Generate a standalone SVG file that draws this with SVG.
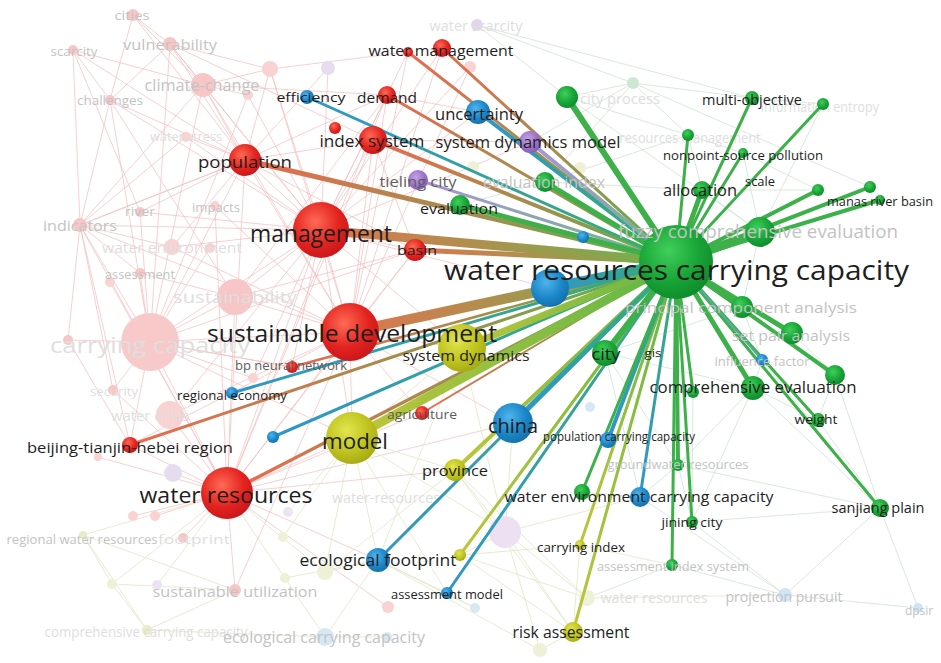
<svg xmlns="http://www.w3.org/2000/svg" width="941" height="663" viewBox="0 0 941 663">
<style>
.t{font-family:"Open Sans","Noto Sans","DejaVu Sans",sans-serif;text-anchor:middle;fill:#1e1e1e}
.f{fill:#c3c3c3}
.ff{fill:#dedede}
.g{fill:#5e5e5e}
.wp{fill:none;stroke:#f3bcbc;stroke-width:1;opacity:.7}
.wg{fill:none;stroke:#cfe3d3;stroke-width:1;opacity:.8}
.wo{fill:none;stroke:#e2e6c4;stroke-width:1;opacity:.8}
.c{stroke-linecap:round;fill:none}
.gr{stroke:#3db04a}
</style>
<defs>
<radialGradient id="nr" cx="0.4" cy="0.35" r="0.7"><stop offset="0" stop-color="#ff6a55"/><stop offset="0.6" stop-color="#e3231f"/><stop offset="1" stop-color="#c8151a"/></radialGradient>
<radialGradient id="ng" cx="0.4" cy="0.35" r="0.7"><stop offset="0" stop-color="#3fcf5a"/><stop offset="0.6" stop-color="#18a336"/><stop offset="1" stop-color="#0d8a2a"/></radialGradient>
<radialGradient id="nb" cx="0.4" cy="0.35" r="0.7"><stop offset="0" stop-color="#4fb4ec"/><stop offset="0.6" stop-color="#1b86c8"/><stop offset="1" stop-color="#136fa8"/></radialGradient>
<radialGradient id="no" cx="0.4" cy="0.35" r="0.7"><stop offset="0" stop-color="#e2e54e"/><stop offset="0.6" stop-color="#c0c31e"/><stop offset="1" stop-color="#a3a812"/></radialGradient>
<radialGradient id="np" cx="0.4" cy="0.35" r="0.7"><stop offset="0" stop-color="#c4a2e6"/><stop offset="0.6" stop-color="#9c72c9"/><stop offset="1" stop-color="#8458b5"/></radialGradient>
<linearGradient id="r1" gradientUnits="userSpaceOnUse" x1="408" y1="52" x2="676" y2="262"><stop offset="0" stop-color="#ea6a4f"/><stop offset="1" stop-color="#5db24c"/></linearGradient>
<linearGradient id="r2" gradientUnits="userSpaceOnUse" x1="442" y1="48" x2="676" y2="262"><stop offset="0" stop-color="#ea6a4f"/><stop offset="1" stop-color="#5db24c"/></linearGradient>
<linearGradient id="r3" gradientUnits="userSpaceOnUse" x1="387" y1="95" x2="676" y2="262"><stop offset="0" stop-color="#ea6a4f"/><stop offset="1" stop-color="#5db24c"/></linearGradient>
<linearGradient id="r4" gradientUnits="userSpaceOnUse" x1="373" y1="140" x2="676" y2="262"><stop offset="0" stop-color="#ea6a4f"/><stop offset="1" stop-color="#5db24c"/></linearGradient>
<linearGradient id="r5" gradientUnits="userSpaceOnUse" x1="245" y1="160" x2="676" y2="262"><stop offset="0" stop-color="#ea6a4f"/><stop offset="1" stop-color="#5db24c"/></linearGradient>
<linearGradient id="r6" gradientUnits="userSpaceOnUse" x1="321" y1="230" x2="676" y2="262"><stop offset="0" stop-color="#e0744f"/><stop offset="1" stop-color="#6db44c"/></linearGradient>
<linearGradient id="r7" gradientUnits="userSpaceOnUse" x1="415" y1="250" x2="676" y2="262"><stop offset="0" stop-color="#e0744f"/><stop offset="1" stop-color="#6db44c"/></linearGradient>
<linearGradient id="r8" gradientUnits="userSpaceOnUse" x1="350" y1="332" x2="676" y2="262"><stop offset="0" stop-color="#e0744f"/><stop offset="1" stop-color="#6db44c"/></linearGradient>
<linearGradient id="r9" gradientUnits="userSpaceOnUse" x1="292" y1="367" x2="676" y2="262"><stop offset="0" stop-color="#ea6a4f"/><stop offset="1" stop-color="#5db24c"/></linearGradient>
<linearGradient id="r10" gradientUnits="userSpaceOnUse" x1="422" y1="413" x2="676" y2="262"><stop offset="0" stop-color="#ea6a4f"/><stop offset="1" stop-color="#5db24c"/></linearGradient>
<linearGradient id="r11" gradientUnits="userSpaceOnUse" x1="130" y1="445" x2="676" y2="262"><stop offset="0" stop-color="#ea6a4f"/><stop offset="1" stop-color="#5db24c"/></linearGradient>
<linearGradient id="r12" gradientUnits="userSpaceOnUse" x1="227" y1="493" x2="676" y2="262"><stop offset="0" stop-color="#ea6a4f"/><stop offset="1" stop-color="#5db24c"/></linearGradient>
<linearGradient id="b1" gradientUnits="userSpaceOnUse" x1="307" y1="97" x2="676" y2="262"><stop offset="0" stop-color="#2e96cc"/><stop offset="1" stop-color="#3aae6a"/></linearGradient>
<linearGradient id="b2" gradientUnits="userSpaceOnUse" x1="478" y1="112" x2="676" y2="262"><stop offset="0" stop-color="#2e96cc"/><stop offset="1" stop-color="#3aae6a"/></linearGradient>
<linearGradient id="b3" gradientUnits="userSpaceOnUse" x1="550" y1="288" x2="676" y2="262"><stop offset="0" stop-color="#2e96cc"/><stop offset="1" stop-color="#3aae6a"/></linearGradient>
<linearGradient id="b4" gradientUnits="userSpaceOnUse" x1="232" y1="393" x2="676" y2="262"><stop offset="0" stop-color="#2e96cc"/><stop offset="1" stop-color="#3aae6a"/></linearGradient>
<linearGradient id="b5" gradientUnits="userSpaceOnUse" x1="273" y1="437" x2="676" y2="262"><stop offset="0" stop-color="#2e96cc"/><stop offset="1" stop-color="#3aae6a"/></linearGradient>
<linearGradient id="b6" gradientUnits="userSpaceOnUse" x1="513" y1="423" x2="676" y2="262"><stop offset="0" stop-color="#2e96cc"/><stop offset="1" stop-color="#3aae6a"/></linearGradient>
<linearGradient id="b7" gradientUnits="userSpaceOnUse" x1="378" y1="560" x2="676" y2="262"><stop offset="0" stop-color="#2e96cc"/><stop offset="1" stop-color="#3aae6a"/></linearGradient>
<linearGradient id="b8" gradientUnits="userSpaceOnUse" x1="447" y1="593" x2="676" y2="262"><stop offset="0" stop-color="#2e96cc"/><stop offset="1" stop-color="#3aae6a"/></linearGradient>
<linearGradient id="b9" gradientUnits="userSpaceOnUse" x1="608" y1="440" x2="676" y2="262"><stop offset="0" stop-color="#2e96cc"/><stop offset="1" stop-color="#3aae6a"/></linearGradient>
<linearGradient id="b10" gradientUnits="userSpaceOnUse" x1="640" y1="497" x2="676" y2="262"><stop offset="0" stop-color="#2e96cc"/><stop offset="1" stop-color="#3aae6a"/></linearGradient>
<linearGradient id="p1" gradientUnits="userSpaceOnUse" x1="530" y1="142" x2="676" y2="262"><stop offset="0" stop-color="#a996d6"/><stop offset="1" stop-color="#6db88a"/></linearGradient>
<linearGradient id="p2" gradientUnits="userSpaceOnUse" x1="418" y1="180" x2="676" y2="262"><stop offset="0" stop-color="#a996d6"/><stop offset="1" stop-color="#6db88a"/></linearGradient>
<linearGradient id="o1" gradientUnits="userSpaceOnUse" x1="352" y1="438" x2="676" y2="262"><stop offset="0" stop-color="#bfc63a"/><stop offset="1" stop-color="#5fb648"/></linearGradient>
<linearGradient id="o2" gradientUnits="userSpaceOnUse" x1="462" y1="348" x2="676" y2="262"><stop offset="0" stop-color="#bfc63a"/><stop offset="1" stop-color="#5fb648"/></linearGradient>
<linearGradient id="o3" gradientUnits="userSpaceOnUse" x1="455" y1="470" x2="676" y2="262"><stop offset="0" stop-color="#bfc63a"/><stop offset="1" stop-color="#5fb648"/></linearGradient>
<linearGradient id="o4" gradientUnits="userSpaceOnUse" x1="460" y1="555" x2="676" y2="262"><stop offset="0" stop-color="#bfc63a"/><stop offset="1" stop-color="#5fb648"/></linearGradient>
<linearGradient id="o5" gradientUnits="userSpaceOnUse" x1="580" y1="545" x2="676" y2="262"><stop offset="0" stop-color="#bfc63a"/><stop offset="1" stop-color="#5fb648"/></linearGradient>
<linearGradient id="o6" gradientUnits="userSpaceOnUse" x1="573" y1="632" x2="676" y2="262"><stop offset="0" stop-color="#bfc63a"/><stop offset="1" stop-color="#5fb648"/></linearGradient>
</defs>
<rect width="941" height="663" fill="#ffffff"/>

<g id="background-links">
<path class="wp" d="M133,15L170,44M133,15L203,85M133,15L110,100M133,15L245,160M73,50L110,100M73,50L203,85M73,50L140,212M73,50L245,160M73,50L80,225M170,44L245,160M170,44L270,69M170,44L110,100M170,44L321,230M170,44L203,85M170,44L150,342M203,85L245,160M203,85L321,230M203,85L80,225M203,85L150,342M203,85L270,69M203,85L248,95M203,85L350,332M110,100L150,342M110,100L80,225M110,100L245,160M110,100L235,297M110,100L321,230M186,137L321,230M186,137L80,225M186,137L245,160M245,160L80,225M245,160L150,342M245,160L140,212M245,160L172,247M245,160L350,332M245,160L321,230M245,160L373,140M245,160L387,95M245,160L227,493M270,69L245,160M270,69L408,52M270,69L350,332M270,69L321,230M248,95L321,230M248,95L150,342M328,68L321,230M328,68L245,160M80,225L150,342M80,225L172,247M80,225L113,390M80,225L140,273M80,225L321,230M80,225L350,332M80,225L227,493M80,225L130,445M140,212L321,230M140,212L150,342M215,206L350,332M215,206L227,493M172,247L350,332M172,247L321,230M210,248L150,342M140,273L235,297M140,273L150,342M110,282L227,493M235,297L321,230M235,297L350,332M235,297L150,342M235,297L227,493M150,342L350,332M150,342L321,230M150,342L227,493M150,342L130,445M150,342L113,390M150,342L68,340M150,342L352,438M150,342L415,250M68,340L80,225M68,340L130,445M113,390L227,493M170,415L350,332M170,415L227,493M170,415L321,230M130,445L227,493M130,445L350,332M321,230L350,332M321,230L227,493M350,332L227,493M350,332L352,438M321,230L530,142M321,230L478,112M350,332L513,423M350,332L462,348M321,230L415,250M321,230L387,95M321,230L373,140M321,230L352,438M321,230L550,288M350,332L550,288M350,332L415,250M227,493L352,438M227,493L455,470M227,493L378,560M227,493L513,423M227,493L133,516M227,493L155,516M227,493L183,538M227,493L235,590M227,493L173,473M227,493L388,607M227,493L98,457M235,590L350,332M373,140L530,142M373,140L350,332M387,95L350,332M408,52L321,230M442,48L350,332M470,67L321,230M292,367L150,342M253,378L150,342M422,413L227,493M422,413L350,332M373,140L415,250M387,95L478,112M245,160L415,250M321,230L462,348M150,342L292,367M235,297L415,250M80,225L245,160M170,44L373,140M203,85L387,95M442,48L321,230M408,52L350,332M470,67L350,332M373,140L227,493M387,95L227,493M415,250L227,493M292,367L321,230M253,378L321,230M235,297L387,95"/>
<path class="wg" d="M567,97L633,83M633,83L752,98M633,83L688,135M567,97L688,135M688,135L743,153M743,153L760,232M752,98L823,104M823,104L760,232M760,232L870,187M760,232L742,307M742,307L792,333M792,333L835,375M835,375L818,420M818,420L880,508M880,508L785,595M880,508L918,608M785,595L918,608M785,595L672,565M785,595L692,522M692,522L678,465M678,465L640,497M640,497L582,492M753,388L762,360M762,360L742,307M880,508L753,388M880,508L678,465M692,522L753,388M605,353L742,307M605,353L753,388M545,182L633,83M460,205L545,182M702,190L760,232M702,190L688,135M880,508L835,375M785,595L640,497M672,565L587,598M880,508L692,522M818,420L753,388M702,190L818,190M743,153L818,190M633,83L870,187M567,97L477,25M477,25L633,83M567,97L760,232M545,182L702,190M605,353L678,465M605,353L640,497M742,307L835,375M753,388L678,465M693,392L692,522M762,360L880,508M530,142L633,83M545,182L688,135M477,25L752,98"/>
<path class="wo" d="M352,438L378,560M352,438L455,470M352,438L325,572M325,572L378,560M378,560L325,637M378,560L447,593M325,637L387,637M447,593L475,608M455,470L505,532M505,532L573,632M573,632L580,545M460,555L573,632M505,532L460,555M505,532L640,497M112,584L235,590M83,535L235,590M147,630L235,590M147,630L83,535M147,630L325,637M83,535L227,493M112,584L227,493M352,438L505,532M455,470L573,632M462,348L505,532M513,423L378,560M462,348L378,560M352,438L447,593M587,598L505,532M587,598L460,555M540,650L573,632M540,650L505,532M283,537L352,438M285,578L378,560M288,512L352,438M157,585L227,493M325,572L227,493M378,560L540,650M455,470L587,598M513,423L505,532M378,560L475,608M325,637L227,493M455,470L325,572M580,545L672,565M785,595L587,598M580,545L460,555M462,348L352,438M513,423L455,470M147,630L112,584M83,535L112,584"/>
</g>

<g id="faded-nodes">
<g id="n-cities"><circle cx="133" cy="15" r="6" fill="#f7c6c6"/><text class="t f" x="132" y="20" font-size="13" textLength="35" lengthAdjust="spacingAndGlyphs">cities</text></g>
<g id="n-scarcity"><circle cx="73" cy="50" r="5" fill="#f7c6c6"/><text class="t f" x="74" y="56" font-size="12" textLength="47" lengthAdjust="spacingAndGlyphs">scarcity</text></g>
<g id="n-vulnerability"><circle cx="170" cy="44" r="7" fill="#f7c6c6"/><text class="t f" x="170" y="50" font-size="15" textLength="94" lengthAdjust="spacingAndGlyphs">vulnerability</text></g>
<g id="n-x1"><circle cx="270" cy="69" r="8" fill="#f9d2d2"/><circle cx="248" cy="95" r="5" fill="#f9d2d2"/><circle cx="328" cy="68" r="7" fill="#e6dcf0"/><circle cx="470" cy="67" r="6" fill="#f9d2d2"/></g>
<g id="n-climate"><circle cx="203" cy="85" r="12" fill="#f7c6c6"/><text class="t f" x="202" y="91" font-size="16" textLength="115" lengthAdjust="spacingAndGlyphs">climate-change</text></g>
<g id="n-challenges"><circle cx="110" cy="100" r="5" fill="#f7c6c6"/><text class="t f" x="110" y="105" font-size="13" textLength="66" lengthAdjust="spacingAndGlyphs">challenges</text></g>
<g id="n-waterstress"><circle cx="186" cy="137" r="5" fill="#f9d2d2"/><text class="t ff" x="186" y="141" font-size="13" textLength="72" lengthAdjust="spacingAndGlyphs">water stress</text></g>
<g id="n-river"><circle cx="140" cy="212" r="5" fill="#f7c6c6"/><text class="t f" x="140" y="216" font-size="13" textLength="30" lengthAdjust="spacingAndGlyphs">river</text></g>
<g id="n-impacts"><circle cx="215" cy="206" r="5" fill="#f9d2d2"/><text class="t f" x="216" y="212" font-size="13" textLength="48" lengthAdjust="spacingAndGlyphs">impacts</text></g>
<g id="n-indicators"><circle cx="80" cy="225" r="7" fill="#f7c6c6"/><text class="t f" x="80" y="231" font-size="14" textLength="74" lengthAdjust="spacingAndGlyphs">indicators</text></g>
<g id="n-waterenv"><circle cx="172" cy="247" r="8" fill="#f9d2d2"/><circle cx="210" cy="248" r="5" fill="#f9d2d2"/><text class="t ff" x="172" y="253" font-size="14" textLength="140" lengthAdjust="spacingAndGlyphs">water environment</text></g>
<g id="n-assessment"><circle cx="140" cy="273" r="5" fill="#f7c6c6"/><circle cx="110" cy="282" r="5" fill="#f9d2d2"/><text class="t f" x="140" y="279" font-size="12" textLength="70" lengthAdjust="spacingAndGlyphs">assessment</text></g>
<g id="n-sustainability"><circle cx="235" cy="297" r="18" fill="#f7c6c6"/><text class="t ff" x="235" y="303" font-size="17" textLength="124" lengthAdjust="spacingAndGlyphs">sustainability</text></g>
<g id="n-carrying"><circle cx="150" cy="342" r="29" fill="#f8c9c9"/><circle cx="68" cy="340" r="5" fill="#f7c6c6"/><text class="t ff" x="150" y="353" font-size="22" textLength="200" lengthAdjust="spacingAndGlyphs">carrying capacity</text></g>
<g id="n-security"><circle cx="113" cy="390" r="5" fill="#f7c6c6"/><text class="t ff" x="114" y="396" font-size="12" textLength="48" lengthAdjust="spacingAndGlyphs">security</text></g>
<g id="n-crisis"><circle cx="170" cy="415" r="14" fill="#f9d2d2"/><circle cx="253" cy="378" r="5" fill="#f9d2d2"/><text class="t ff" x="150" y="421" font-size="14" textLength="78" lengthAdjust="spacingAndGlyphs">water crisis</text></g>
<g id="n-x2"><circle cx="173" cy="473" r="9" fill="#e6dcf0"/><circle cx="133" cy="516" r="5" fill="#f9d2d2"/><circle cx="155" cy="516" r="5" fill="#f9d2d2"/><circle cx="98" cy="457" r="4" fill="#f9d2d2"/><circle cx="283" cy="537" r="5" fill="#eef0d8"/><circle cx="285" cy="578" r="5" fill="#eef0d8"/><circle cx="288" cy="512" r="5" fill="#ece4f4"/><circle cx="157" cy="585" r="5" fill="#ece4f4"/><circle cx="112" cy="584" r="5" fill="#eef0d8"/></g>
<g id="n-regionalwater"><circle cx="83" cy="535" r="4" fill="#e8ecc8"/><text class="t f" x="82" y="544" font-size="13" textLength="151" lengthAdjust="spacingAndGlyphs">regional water resources</text></g>
<g id="n-waterfootprint"><circle cx="183" cy="538" r="5" fill="#f7c6c6"/><text class="t ff" x="194" y="544" font-size="13" textLength="72" lengthAdjust="spacingAndGlyphs">footprint</text></g>
<g id="n-sustutil"><circle cx="235" cy="590" r="6" fill="#f7c6c6"/><text class="t f" x="235" y="597" font-size="15" textLength="165" lengthAdjust="spacingAndGlyphs">sustainable utilization</text></g>
<g id="n-compcarrying"><circle cx="147" cy="630" r="5" fill="#e8ecc8"/><text class="t ff" x="146" y="637" font-size="14" textLength="203" lengthAdjust="spacingAndGlyphs">comprehensive carrying capacity</text></g>
<g id="n-ecocarrying"><circle cx="325" cy="637" r="9" fill="#d6e8f4"/><circle cx="387" cy="637" r="5" fill="#d6e8f4"/><text class="t f" x="324" y="643" font-size="16" textLength="202" lengthAdjust="spacingAndGlyphs">ecological carrying capacity</text></g>
<g id="n-wres2"><circle cx="325" cy="572" r="8" fill="#eef0d8"/><text class="t ff" x="386" y="503" font-size="14" textLength="108" lengthAdjust="spacingAndGlyphs">water-resources</text></g>
<g id="n-x3"><circle cx="505" cy="532" r="16" fill="#ece0f2"/><circle cx="388" cy="607" r="6" fill="#f9d2d2"/><circle cx="475" cy="608" r="5" fill="#d6e8f4"/><circle cx="540" cy="650" r="7" fill="#eef0d8"/><circle cx="590" cy="407" r="5" fill="#d6e8f4"/><circle cx="473" cy="167" r="6" fill="#f0f0d8"/><circle cx="580" cy="168" r="6" fill="#f0f0d8"/></g>
<g id="n-wres3"><circle cx="587" cy="598" r="8" fill="#eef0d8"/><text class="t ff" x="654" y="603" font-size="14" textLength="107" lengthAdjust="spacingAndGlyphs">water resources</text></g>
<g id="n-projection"><circle cx="785" cy="595" r="7" fill="#cfe4f4"/><text class="t f" x="784" y="602" font-size="15" textLength="117" lengthAdjust="spacingAndGlyphs">projection pursuit</text></g>
<g id="n-dpsir"><circle cx="918" cy="608" r="5" fill="#cfe4f4"/><text class="t f" x="919" y="615" font-size="13" textLength="28" lengthAdjust="spacingAndGlyphs">dpsir</text></g>
<g id="n-scarcitywater"><circle cx="477" cy="25" r="6" fill="#e2d6ee"/><text class="t ff" x="476" y="31" font-size="14" textLength="93" lengthAdjust="spacingAndGlyphs">water scarcity</text></g>
<g id="n-cityprocess"><circle cx="633" cy="83" r="6" fill="#cde8d2"/><text class="t ff" x="620" y="104" font-size="14" textLength="80" lengthAdjust="spacingAndGlyphs">city process</text></g>
<g id="n-resmgmt"><text class="t ff" x="690" y="143" font-size="14" textLength="141" lengthAdjust="spacingAndGlyphs">resources management</text></g>
<g id="n-entropy"><text class="t ff" x="820" y="112" font-size="14" textLength="118" lengthAdjust="spacingAndGlyphs">information entropy</text></g>
</g>

<g id="connectors">
<line class="c" x1="408" y1="52" x2="676" y2="262" stroke="url(#r1)" stroke-width="3"/>
<line class="c" x1="442" y1="48" x2="676" y2="262" stroke="url(#r2)" stroke-width="3"/>
<line class="c" x1="387" y1="95" x2="676" y2="262" stroke="url(#r3)" stroke-width="3"/>
<line class="c" x1="373" y1="140" x2="676" y2="262" stroke="url(#r4)" stroke-width="4"/>
<line class="c" x1="245" y1="160" x2="676" y2="262" stroke="url(#r5)" stroke-width="5"/>
<line class="c" x1="307" y1="97" x2="676" y2="262" stroke="url(#b1)" stroke-width="3"/>
<line class="c" x1="478" y1="112" x2="676" y2="262" stroke="url(#b2)" stroke-width="4"/>
<line class="c" x1="530" y1="142" x2="676" y2="262" stroke="url(#p1)" stroke-width="4"/>
<line class="c" x1="418" y1="180" x2="676" y2="262" stroke="url(#p2)" stroke-width="3"/>
<line class="c" x1="321" y1="230" x2="676" y2="262" stroke="url(#r6)" stroke-width="9"/>
<line class="c" x1="415" y1="250" x2="676" y2="262" stroke="url(#r7)" stroke-width="5"/>
<line class="c" x1="350" y1="332" x2="676" y2="262" stroke="url(#r8)" stroke-width="10"/>
<line class="c" x1="292" y1="367" x2="676" y2="262" stroke="url(#r9)" stroke-width="2.5"/>
<line class="c" x1="232" y1="393" x2="676" y2="262" stroke="url(#b4)" stroke-width="3"/>
<line class="c" x1="130" y1="445" x2="676" y2="262" stroke="url(#r11)" stroke-width="3"/>
<line class="c" x1="273" y1="437" x2="676" y2="262" stroke="url(#b5)" stroke-width="3"/>
<line class="c" x1="227" y1="493" x2="676" y2="262" stroke="url(#r12)" stroke-width="3.5"/>
<line class="c" x1="422" y1="413" x2="676" y2="262" stroke="url(#r10)" stroke-width="2"/>
<line class="c" x1="352" y1="438" x2="676" y2="262" stroke="url(#o1)" stroke-width="9"/>
<line class="c" x1="462" y1="348" x2="676" y2="262" stroke="url(#o2)" stroke-width="7"/>
<line class="c" x1="455" y1="470" x2="676" y2="262" stroke="url(#o3)" stroke-width="4"/>
<line class="c" x1="378" y1="560" x2="676" y2="262" stroke="url(#b7)" stroke-width="3"/>
<line class="c" x1="460" y1="555" x2="676" y2="262" stroke="url(#o4)" stroke-width="3"/>
<line class="c" x1="447" y1="593" x2="676" y2="262" stroke="url(#b8)" stroke-width="3"/>
<line class="c" x1="580" y1="545" x2="676" y2="262" stroke="url(#o5)" stroke-width="3"/>
<line class="c" x1="573" y1="632" x2="676" y2="262" stroke="url(#o6)" stroke-width="3"/>
<line class="c" x1="513" y1="423" x2="676" y2="262" stroke="url(#b6)" stroke-width="5"/>
<line class="c" x1="608" y1="440" x2="676" y2="262" stroke="url(#b9)" stroke-width="4"/>
<line class="c" x1="640" y1="497" x2="676" y2="262" stroke="url(#b10)" stroke-width="3"/>
<line class="c" x1="550" y1="288" x2="676" y2="262" stroke="url(#b3)" stroke-width="10"/>
<line class="c" x1="583" y1="237" x2="676" y2="262" stroke="#3aa6a0" stroke-width="3"/>
<g class="c gr">
<line x1="567" y1="97" x2="676" y2="262" stroke-width="6"/>
<line x1="460" y1="205" x2="676" y2="262" stroke-width="5"/>
<line x1="545" y1="182" x2="676" y2="262" stroke-width="5"/>
<line x1="688" y1="135" x2="676" y2="262" stroke-width="3"/>
<line x1="752" y1="98" x2="676" y2="262" stroke-width="3"/>
<line x1="743" y1="153" x2="676" y2="262" stroke-width="3"/>
<line x1="823" y1="104" x2="676" y2="262" stroke-width="3"/>
<line x1="702" y1="190" x2="676" y2="262" stroke-width="5"/>
<line x1="818" y1="190" x2="676" y2="262" stroke-width="4"/>
<line x1="870" y1="187" x2="676" y2="262" stroke-width="4"/>
<line x1="880" y1="200" x2="676" y2="262" stroke-width="4"/>
<line x1="760" y1="232" x2="676" y2="262" stroke-width="9"/>
<line x1="742" y1="307" x2="676" y2="262" stroke-width="6"/>
<line x1="792" y1="333" x2="676" y2="262" stroke-width="5"/>
<line x1="835" y1="375" x2="676" y2="262" stroke-width="4"/>
<line x1="753" y1="388" x2="676" y2="262" stroke-width="5"/>
<line x1="693" y1="392" x2="676" y2="262" stroke-width="3"/>
<line x1="818" y1="420" x2="676" y2="262" stroke-width="3"/>
<line x1="880" y1="508" x2="676" y2="262" stroke-width="3"/>
<line x1="692" y1="522" x2="676" y2="262" stroke-width="3"/>
<line x1="678" y1="465" x2="676" y2="262" stroke-width="4"/>
<line x1="672" y1="565" x2="676" y2="262" stroke-width="3"/>
<line x1="582" y1="492" x2="676" y2="262" stroke-width="3"/>
<line x1="605" y1="353" x2="676" y2="262" stroke-width="6"/>
<line x1="762" y1="360" x2="676" y2="262" stroke-width="2" stroke="#5aa8a8"/>
</g>
</g>

<g id="nodes">
<g id="n-hub"><circle cx="676" cy="262" r="37" fill="url(#ng)"/></g>
<g id="n-sysdyn"><circle cx="462" cy="348" r="24" fill="url(#no)"/><text class="t" x="466" y="361" font-size="15" textLength="127" lengthAdjust="spacingAndGlyphs">system dynamics</text></g>
<g id="n-blue1"><circle cx="583" cy="237" r="6" fill="url(#nb)"/><circle cx="550" cy="288" r="19" fill="url(#nb)"/></g>
<g id="n-management"><circle cx="321" cy="230" r="28" fill="url(#nr)"/><text class="t" x="321" y="242" font-size="23" textLength="142" lengthAdjust="spacingAndGlyphs">management</text></g>
<g id="n-sustdev"><circle cx="350" cy="332" r="29" fill="url(#nr)"/><text class="t" x="352" y="342" font-size="23" textLength="290" lengthAdjust="spacingAndGlyphs">sustainable development</text></g>
<g id="n-waterres"><circle cx="227" cy="493" r="26" fill="url(#nr)"/><text class="t" x="226" y="503" font-size="22" textLength="173" lengthAdjust="spacingAndGlyphs">water resources</text></g>
<g id="n-model"><circle cx="352" cy="438" r="26" fill="url(#no)"/><text class="t" x="355" y="449" font-size="22" textLength="66" lengthAdjust="spacingAndGlyphs">model</text></g>
<g id="n-population"><circle cx="245" cy="160" r="16" fill="url(#nr)"/><text class="t" x="245" y="168" font-size="17" textLength="94" lengthAdjust="spacingAndGlyphs">population</text></g>
<g id="n-indexsystem"><circle cx="335" cy="128" r="6" fill="url(#nr)"/><circle cx="373" cy="140" r="14" fill="url(#nr)"/><text class="t" x="372" y="147" font-size="17" textLength="105" lengthAdjust="spacingAndGlyphs">index system</text></g>
<g id="n-demand"><circle cx="387" cy="95" r="9" fill="url(#nr)"/><text class="t" x="387" y="103" font-size="15" textLength="60" lengthAdjust="spacingAndGlyphs">demand</text></g>
<g id="n-watermgmt"><circle cx="408" cy="52" r="5" fill="url(#nr)"/><circle cx="442" cy="48" r="9" fill="url(#nr)"/><text class="t" x="441" y="56" font-size="15" textLength="145" lengthAdjust="spacingAndGlyphs">water management</text></g>
<g id="n-efficiency"><circle cx="307" cy="97" r="7" fill="url(#nb)"/><text class="t" x="311" y="102" font-size="13" textLength="69" lengthAdjust="spacingAndGlyphs">efficiency</text></g>
<g id="n-uncertainty"><circle cx="478" cy="112" r="12" fill="url(#nb)"/><text class="t" x="479" y="120" font-size="16" textLength="88" lengthAdjust="spacingAndGlyphs">uncertainty</text></g>
<g id="n-sdm"><circle cx="530" cy="142" r="11" fill="url(#np)"/><text class="t" x="528" y="148" font-size="17" textLength="185" lengthAdjust="spacingAndGlyphs">system dynamics model</text></g>
<g id="n-tieling"><circle cx="418" cy="180" r="10" fill="url(#np)"/><text class="t g" x="418" y="187" font-size="15" textLength="77" lengthAdjust="spacingAndGlyphs">tieling city</text></g>
<g id="n-evalindex"><circle cx="545" cy="182" r="10" fill="url(#ng)"/><text class="t f" x="544" y="188" font-size="16" textLength="122" lengthAdjust="spacingAndGlyphs">evaluation index</text></g>
<g id="n-evaluation"><circle cx="460" cy="205" r="10" fill="url(#ng)"/><text class="t" x="459" y="214" font-size="15" textLength="78" lengthAdjust="spacingAndGlyphs">evaluation</text></g>
<g id="n-green-top"><circle cx="567" cy="97" r="11" fill="url(#ng)"/></g>
<g id="n-basin"><circle cx="415" cy="250" r="11" fill="url(#nr)"/><text class="t" x="417" y="255" font-size="13" textLength="40" lengthAdjust="spacingAndGlyphs">basin</text></g>
<g id="n-city"><circle cx="605" cy="353" r="13" fill="url(#ng)"/><text class="t" x="606" y="360" font-size="16" textLength="29" lengthAdjust="spacingAndGlyphs">city</text></g>
<g id="n-gis"><text class="t" x="653" y="357" font-size="11" textLength="17" lengthAdjust="spacingAndGlyphs">gis</text></g>
<g id="n-bp"><circle cx="292" cy="367" r="6" fill="url(#nr)"/><text class="t g" x="291" y="370" font-size="13" textLength="112" lengthAdjust="spacingAndGlyphs">bp neural network</text></g>
<g id="n-regecon"><circle cx="232" cy="393" r="6" fill="url(#nb)"/><text class="t" x="232" y="400" font-size="13" textLength="110" lengthAdjust="spacingAndGlyphs">regional economy</text></g>
<g id="n-agri"><circle cx="422" cy="413" r="7" fill="url(#nr)"/><text class="t g" x="422" y="419" font-size="13" textLength="70" lengthAdjust="spacingAndGlyphs">agriculture</text></g>
<g id="n-beijing"><circle cx="130" cy="445" r="8" fill="url(#nr)"/><text class="t" x="130" y="453" font-size="15" textLength="206" lengthAdjust="spacingAndGlyphs">beijing-tianjin-hebei region</text></g>
<g id="n-blue2"><circle cx="273" cy="437" r="6" fill="url(#nb)"/></g>
<g id="n-china"><circle cx="513" cy="423" r="20" fill="url(#nb)"/><text class="t" x="513" y="433" font-size="20" textLength="50" lengthAdjust="spacingAndGlyphs">china</text></g>
<g id="n-popcc"><circle cx="608" cy="440" r="8" fill="url(#nb)"/><text class="t" x="619" y="441" font-size="13" textLength="152" lengthAdjust="spacingAndGlyphs">population carrying capacity</text></g>
<g id="n-province"><circle cx="455" cy="470" r="11" fill="url(#no)"/><text class="t" x="455" y="476" font-size="15" textLength="66" lengthAdjust="spacingAndGlyphs">province</text></g>
<g id="n-groundwater"><circle cx="678" cy="465" r="6" fill="url(#ng)"/><text class="t f" x="678" y="469" font-size="13" textLength="141" lengthAdjust="spacingAndGlyphs">groundwater resources</text></g>
<g id="n-wecc"><circle cx="582" cy="492" r="8" fill="url(#ng)"/><circle cx="640" cy="497" r="10" fill="url(#nb)"/><text class="t" x="639" y="502" font-size="15" textLength="269" lengthAdjust="spacingAndGlyphs">water environment carrying capacity</text></g>
<g id="n-jining"><circle cx="692" cy="522" r="6" fill="url(#ng)"/><text class="t" x="692" y="527" font-size="13" textLength="61" lengthAdjust="spacingAndGlyphs">jining city</text></g>
<g id="n-sanjiang"><circle cx="880" cy="508" r="9" fill="url(#ng)"/><text class="t" x="878" y="513" font-size="15" textLength="93" lengthAdjust="spacingAndGlyphs">sanjiang plain</text></g>
<g id="n-carryindex"><circle cx="580" cy="545" r="5" fill="url(#no)"/><text class="t" x="581" y="552" font-size="12" textLength="88" lengthAdjust="spacingAndGlyphs">carrying index</text></g>
<g id="n-assessidx"><circle cx="672" cy="565" r="6" fill="url(#ng)"/><text class="t f" x="673" y="571" font-size="13" textLength="152" lengthAdjust="spacingAndGlyphs">assessment index system</text></g>
<g id="n-ecofoot"><circle cx="378" cy="560" r="12" fill="url(#nb)"/><circle cx="460" cy="555" r="6" fill="url(#no)"/><text class="t" x="378" y="566" font-size="16" textLength="157" lengthAdjust="spacingAndGlyphs">ecological footprint</text></g>
<g id="n-assessmodel"><circle cx="447" cy="593" r="6" fill="url(#nb)"/><text class="t" x="447" y="599" font-size="12" textLength="112" lengthAdjust="spacingAndGlyphs">assessment model</text></g>
<g id="n-risk"><circle cx="573" cy="632" r="10" fill="url(#no)"/><text class="t" x="571" y="638" font-size="16" textLength="117" lengthAdjust="spacingAndGlyphs">risk assessment</text></g>
<g id="n-multi"><circle cx="752" cy="98" r="7" fill="url(#ng)"/><text class="t" x="752" y="105" font-size="14" textLength="100" lengthAdjust="spacingAndGlyphs">multi-objective</text></g>
<g id="n-entropynode"><circle cx="823" cy="104" r="6" fill="url(#ng)"/></g>
<g id="n-resmgmtnode"><circle cx="688" cy="135" r="6" fill="url(#ng)"/></g>
<g id="n-nonpoint"><circle cx="743" cy="153" r="5" fill="url(#ng)"/><text class="t" x="743" y="160" font-size="13" textLength="160" lengthAdjust="spacingAndGlyphs">nonpoint-source pollution</text></g>
<g id="n-allocation"><circle cx="702" cy="190" r="9" fill="url(#ng)"/><text class="t" x="700" y="196" font-size="16" textLength="74" lengthAdjust="spacingAndGlyphs">allocation</text></g>
<g id="n-scale"><text class="t" x="760" y="186" font-size="12" textLength="30" lengthAdjust="spacingAndGlyphs">scale</text></g>
<g id="n-manas"><circle cx="818" cy="190" r="6" fill="url(#ng)"/><circle cx="870" cy="187" r="6" fill="url(#ng)"/><circle cx="880" cy="200" r="5" fill="url(#ng)"/><text class="t" x="880" y="206" font-size="13" textLength="106" lengthAdjust="spacingAndGlyphs">manas river basin</text></g>
<g id="n-fuzzy"><circle cx="760" cy="232" r="15" fill="url(#ng)"/><text class="t f" x="758" y="238" font-size="18" textLength="280" lengthAdjust="spacingAndGlyphs">fuzzy comprehensive evaluation</text></g>
<g id="n-pca"><circle cx="742" cy="307" r="11" fill="url(#ng)"/><text class="t f" x="741" y="313" font-size="15" textLength="232" lengthAdjust="spacingAndGlyphs">principal component analysis</text></g>
<g id="n-setpair"><circle cx="792" cy="333" r="11" fill="url(#ng)"/><text class="t f" x="791" y="341" font-size="15" textLength="118" lengthAdjust="spacingAndGlyphs">set pair analysis</text></g>
<g id="n-influence"><circle cx="762" cy="360" r="6" fill="url(#nb)"/><text class="t f" x="762" y="366" font-size="13" textLength="95" lengthAdjust="spacingAndGlyphs">influence factor</text></g>
<g id="n-green-r"><circle cx="835" cy="375" r="10" fill="url(#ng)"/></g>
<g id="n-compeval"><circle cx="693" cy="392" r="6" fill="url(#ng)"/><circle cx="753" cy="388" r="12" fill="url(#ng)"/><text class="t" x="753" y="393" font-size="16" textLength="207" lengthAdjust="spacingAndGlyphs">comprehensive evaluation</text></g>
<g id="n-weight"><circle cx="818" cy="420" r="7" fill="url(#ng)"/><text class="t" x="816" y="424" font-size="13" textLength="43" lengthAdjust="spacingAndGlyphs">weight</text></g>
<g id="n-hub-label"><text class="t" x="676.5" y="280" font-size="27" textLength="465" lengthAdjust="spacingAndGlyphs">water resources carrying capacity</text></g>
</g>
</svg>
